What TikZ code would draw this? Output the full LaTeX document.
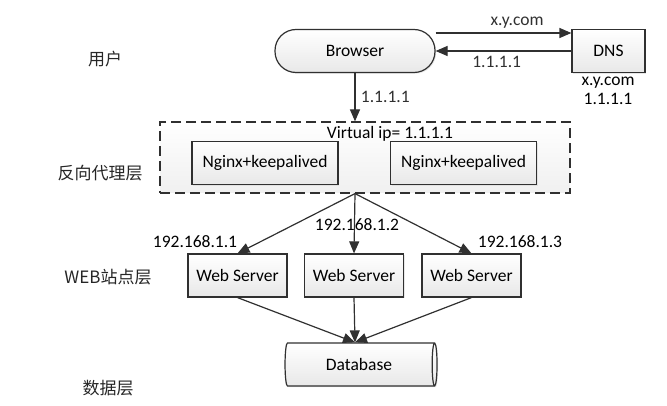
\documentclass[tikz,border=0pt]{standalone}
\usepackage{fontspec}
\setmainfont{Carlito}
\newfontfamily\cjk{Noto Sans CJK SC}
\usepackage{tikz}
\usetikzlibrary{shapes.geometric,positioning,arrows.meta,shadows}
\usepackage{xcolor}
\definecolor{linegray}{HTML}{303030}

\begin{document}
\begin{tikzpicture}[x=1pt,y=-1pt,font=\fontsize{17.5}{19}\selectfont,%
		   box/.style={draw=linegray,line width=1.2pt,top color=white,bottom color=gray!18,minimum height=43pt,inner sep=2pt,
		      drop shadow={shadow xshift=1.2pt,shadow yshift=-1.2pt,fill=gray!35}},
		   vipbox/.style={draw=linegray,line width=1.2pt,dash pattern=on 10pt off 5pt,top color=white,bottom color=gray!12},
		   flow/.style={-{Triangle[length=12pt,width=10pt]},line width=1.2pt,linegray},
		   layer/.style={font=\cjk\fontsize{17}{19}\selectfont,text=black!85}]
	\useasboundingbox (0,0) rectangle (667,406);

	% user layer
	\node[box,rounded corners=21pt,minimum width=160pt] (browser) at (355,51) {Browser};
	\node[box,minimum width=73pt] (dns) at (608.5,51) {DNS};
	\node[align=center] (dnsinfo) at (608,91) {x.y.com\\1.1.1.1};
	\draw[flow] ([yshift=18pt]browser.east) -- node[above=1pt,pos=0.6] (query) {x.y.com} ([yshift=18pt]dns.west);
	\draw[flow] (dns.west) -- node[below=1pt,pos=0.55] (answer) {1.1.1.1} (browser.east);

	% reverse proxy layer
	\node[vipbox,minimum width=410pt,minimum height=71pt] (proxy) at (365,157.5) {};
	\node (vip) at (390,134) {Virtual ip= 1.1.1.1};
	\node[box,minimum width=146pt] (nginx-1) at (265,163) {Nginx+keepalived};
	\node[box,minimum width=146pt] (nginx-2) at (463.5,163) {Nginx+keepalived};
	\draw[flow] (browser.south) -- node[right=2pt] (vipaddr) {1.1.1.1} (browser.south |- proxy.north);

	% web layer and database
	\node[box,cylinder,shape aspect=0.3,minimum height=152pt,minimum width=43pt] (db) at (359,364.5) {Database};
	\coordinate (dbtop) at (db.north -| browser);
	\foreach \ip/\x/\lx/\ly [count=\i] in {%
		192.168.1.1/237.5/195/242,%
		192.168.1.2/354/357/225,%
		192.168.1.3/471.5/520/242%
	   } { \node[box,minimum width=99pt] (web-\i) at (\x,275.5) {Web Server};
	       \node (ip-\i) at (\lx,\ly) {\ip};
	       \draw[flow] (proxy.south -| browser) -- (web-\i.north);
	       \draw[flow] (web-\i.south) -- (dbtop);
	   }

	% layer names
	\foreach \layer/\lx/\ly [count=\i] in {用户/105/59,反向代理层/100/173,WEB站点层/108/277,数据层/108/388}
	   \node[layer] (layer-\i) at (\lx,\ly) {\layer};
\end{tikzpicture}
\end{document}
